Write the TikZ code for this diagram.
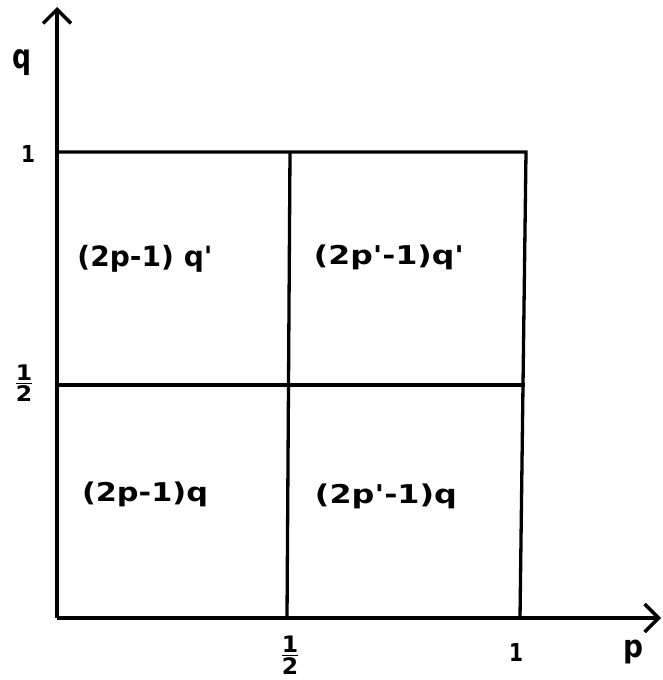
\documentclass[tikz,border=0pt]{standalone}
\usepackage{fontspec}
\usepackage{graphicx}
\newfontfamily\hand{DejaVu Sans}
\usetikzlibrary{arrows.meta}
\newcommand{\fit}[3]{\resizebox*{#1}{#2}{\hand\bfseries #3}}
\begin{document}
\begin{tikzpicture}[x=1pt,y=-1pt,
  axis/.style={line width=4pt,-{Straight Barb[length=14pt,width=28pt,line width=3.5pt]}},
  grid/.style={line width=3.3pt},
  txt/.style={inner sep=0pt}]
\useasboundingbox (0,0) rectangle (662,680);
\coordinate (O) at (57,618);
\coordinate (Ytip) at (57,7);
\coordinate (Xtip) at (661,618);
\coordinate (Y1) at (55,152);
\coordinate (Yh) at (55,385);
\coordinate (TR) at (526,152);
\coordinate (MR) at (525,385);
\coordinate (BR) at (520,618);
\coordinate (TM) at (290,152);
\coordinate (BM) at (287,618);
\draw[grid] (Y1) -- (TR) -- (BR);
\draw[grid] (Yh) -- (MR);
\draw[grid] (TM) -- (BM);
\draw[axis] (O) -- (Ytip);
\draw[axis] (O) -- (Xtip);
\node[txt] (q) at (22,63) {\fit{19pt}{26pt}{q}};
\node[txt] (one) at (28,154) {\fit{14pt}{17pt}{1}};
\node[txt] (half) at (24,383) {\fit{22pt}{36pt}{$\frac{\mbox{1}}{\mbox{2}}$}};
\node[txt] (halfx) at (290,655) {\fit{22pt}{38pt}{$\frac{\mbox{1}}{\mbox{2}}$}};
\node[txt] (onex) at (516,652) {\fit{14pt}{18pt}{1}};
\node[txt] (p) at (633,652) {\fit{20pt}{24pt}{p}};
\node[txt] (c1) at (145,259) {\fit{135pt}{27pt}{(2p-1) q'}};
\node[txt] (c2) at (389,257) {\fit{150pt}{25pt}{(2p'-1)q'}};
\node[txt] (c3) at (145,494) {\fit{126pt}{25pt}{(2p-1)q}};
\node[txt] (c4) at (386,496) {\fit{142pt}{25pt}{(2p'-1)q}};
\end{tikzpicture}
\end{document}
